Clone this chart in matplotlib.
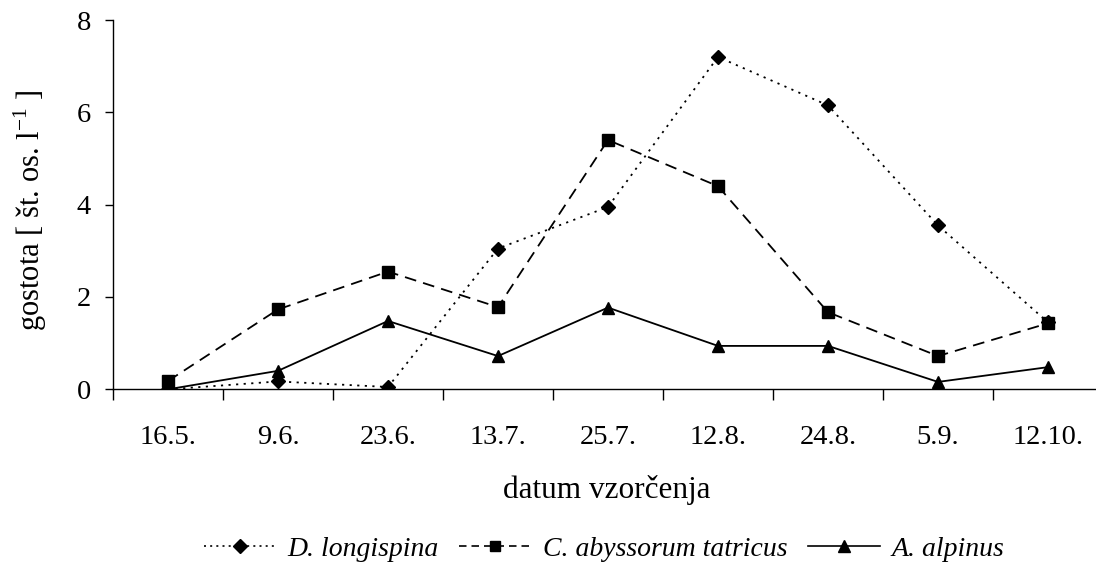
import numpy as np
import matplotlib
matplotlib.use('Agg')
import matplotlib.pyplot as plt
from matplotlib.lines import Line2D

plt.rcParams['font.family'] = ['Liberation Serif', 'DejaVu Serif']
plt.rcParams['mathtext.fontset'] = 'custom'
plt.rcParams['mathtext.rm'] = 'Liberation Serif'

# sampling dates and densities (ind. per litre)
dates = ['16.5.', '9.6.', '23.6.', '13.7.', '25.7.', '12.8.', '24.8.', '5.9.', '12.10.']
d_longispina = [0.0, 0.17, 0.05, 3.05, 3.95, 7.2, 6.15, 3.55, 1.45]
c_abyssorum = [0.18, 1.73, 2.55, 1.78, 5.4, 4.4, 1.67, 0.72, 1.43]
a_alpinus = [0.0, 0.4, 1.48, 0.72, 1.77, 0.94, 0.94, 0.16, 0.48]

names = ['D. longispina', 'C. abyssorum tatricus', 'A. alpinus']

W, H = 1096, 576
fig = plt.figure(figsize=(W / 100, H / 100), dpi=100)
ax = fig.add_axes([113 / W, 1 - 389.3 / H, 990 / W, 369.3 / H])

x = np.arange(len(dates))
lw = 1.3
ax.plot(x, d_longispina, color='black', lw=lw, linestyle=(0, (1.2, 3.0)),
        marker='D', ms=7, mfc='black', mec='black', zorder=3)
ax.plot(x, c_abyssorum, color='black', lw=lw, linestyle=(0, (6.5, 4.0)),
        marker='s', ms=8, mfc='black', mec='black', zorder=3)
ax.plot(x, a_alpinus, color='black', lw=lw, linestyle='-',
        marker='^', ms=9, mfc='black', mec='black', zorder=4)

ax.set_xlim(-0.5, len(dates) - 0.5)
ax.set_ylim(0, 8)
ax.set_yticks([0, 2, 4, 6, 8])

# category labels in the middle, tick marks on the boundaries
ax.set_xticks(x)
ax.set_xticklabels(dates, fontsize=20.5)
ax.tick_params(axis='x', which='major', length=0, pad=26)
ax.set_xticks(np.arange(-0.5, len(dates), 1.0), minor=True)
ax.tick_params(axis='x', which='minor', length=8, width=1, direction='out')
ax.tick_params(axis='y', length=6, width=1, direction='out', labelsize=20.5, pad=10)

for side in ['top', 'right']:
    ax.spines[side].set_visible(False)
for side in ['left', 'bottom']:
    ax.spines[side].set_linewidth(1.0)

fig.text(30 / W, 1 - 210 / H, r'gostota [ št. os. l$^{\mathregular{-1}}$ ]',
         fontsize=22, rotation=90, ha='center', va='center')
fig.text(607 / W, 1 - 490 / H, 'datum vzorčenja', fontsize=22.5, ha='center', va='center')

handles = [
    Line2D([], [], color='black', lw=1.2, linestyle=(0, (1.2, 2.5)), marker='D', ms=7),
    Line2D([], [], color='black', lw=1.2, linestyle=(0, (4.5, 3.0)), marker='s', ms=7),
    Line2D([], [], color='black', lw=1.2, linestyle='-', marker='^', ms=8),
]
fig.legend(handles, names, loc='center', bbox_to_anchor=(604 / W, 1 - 549 / H),
           ncol=3, frameon=False, handlelength=2.6, handletextpad=0.4,
           columnspacing=0.75, prop={'family': 'Liberation Serif', 'style': 'italic', 'size': 20})

fig.savefig('out.png', dpi=100)
